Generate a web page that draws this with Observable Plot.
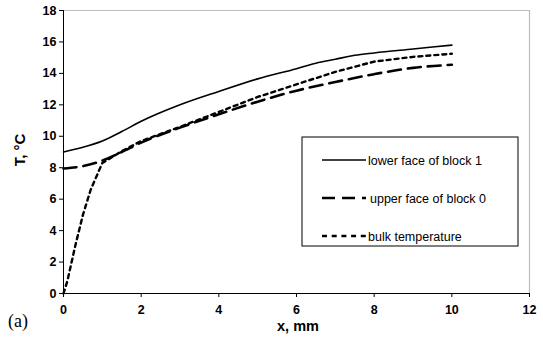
<!DOCTYPE html>
<html><head><meta charset="utf-8">
<script src="https://cdn.jsdelivr.net/npm/d3@7"></script>
<script src="https://cdn.jsdelivr.net/npm/@observablehq/plot@0.6"></script>
<style>
html,body{margin:0;padding:0;background:#fff;}
#chart{position:relative;width:543px;height:340px;}
</style></head>
<body><div id="chart"></div>
<script>
const xTicks = [0, 2, 4, 6, 8, 10, 12];
const yTicks = [0, 2, 4, 6, 8, 10, 12, 14, 16, 18];

const lowerX = [0, 0.5, 1, 1.5, 2, 3, 4, 5, 6, 6.5, 7, 7.5, 8, 9, 10];
const lowerT = [9, 9.3, 9.7, 10.3, 10.95, 12, 12.85, 13.65, 14.3, 14.65, 14.9, 15.15, 15.3, 15.55, 15.8];

const upperX = [0, 0.5, 1, 1.5, 2, 3, 4, 5, 6, 7, 8, 9, 10];
const upperT = [7.95, 8.1, 8.45, 9.0, 9.6, 10.55, 11.4, 12.2, 12.9, 13.45, 13.95, 14.35, 14.55];

const bulkX = [0, 0.1, 0.3, 0.5, 0.7, 1, 1.5, 2, 3, 4, 5, 6, 7, 8, 9, 10];
const bulkT = [0, 0.8, 3, 5, 6.6, 8.3, 9.05, 9.7, 10.6, 11.55, 12.5, 13.3, 14.1, 14.75, 15.05, 15.25];

const seriesNames = ["lower face of block 1", "upper face of block 0", "bulk temperature"];

const mk = (xs, ys) => xs.map((x, i) => ({x, y: ys[i]}));
const lower = mk(lowerX, lowerT), upper = mk(upperX, upperT), bulk = mk(bulkX, bulkT);

const FONT = "Arial, 'Liberation Sans', sans-serif";
const styles = [
  {strokeWidth: 1.6, dash: null},
  {strokeWidth: 2.6, dash: "13,7"},
  {strokeWidth: 2.4, dash: "4,4"}
];

const plot = Plot.plot({
  width: 543, height: 340,
  marginLeft: 63, marginRight: 14, marginTop: 10, marginBottom: 47,
  style: {fontFamily: FONT, background: "#fff"},
  x: {domain: [0, 12], label: null},
  y: {domain: [0, 18], label: null},
  marks: [
    Plot.ruleY([18], {stroke: "#bdbdbd", strokeWidth: 1.2}),
    Plot.ruleX([12], {stroke: "#bdbdbd", strokeWidth: 1.2}),
    Plot.axisX({ticks: xTicks, tickSize: 4, tickPadding: 8, fontWeight: "bold", fontSize: 12.5, stroke: "#000", label: null}),
    Plot.axisY({ticks: yTicks, tickSize: 4, tickPadding: 3, fontWeight: "bold", fontSize: 12.5, stroke: "#000", label: null}),
    Plot.ruleX([0], {stroke: "#000", strokeWidth: 1}),
    Plot.ruleY([0], {stroke: "#000", strokeWidth: 1}),
    Plot.line(lower, {x: "x", y: "y", stroke: "#000", strokeWidth: styles[0].strokeWidth, curve: "monotone-x"}),
    Plot.line(upper, {x: "x", y: "y", stroke: "#000", strokeWidth: styles[1].strokeWidth, strokeDasharray: styles[1].dash, curve: "monotone-x"}),
    Plot.line(bulk, {x: "x", y: "y", stroke: "#000", strokeWidth: styles[2].strokeWidth, strokeDasharray: styles[2].dash, curve: "linear"})
  ]
});
document.getElementById("chart").appendChild(plot);

const svg = d3.select(plot);
// axis titles
svg.append("text").attr("x", 298).attr("y", 331).attr("text-anchor", "middle")
  .attr("font-family", FONT).attr("font-weight", "bold").attr("font-size", 14.5)
  .text("x, mm");
svg.append("text").attr("transform", "translate(25,150) rotate(-90)").attr("text-anchor", "middle")
  .attr("font-family", FONT).attr("font-weight", "bold").attr("font-size", 15)
  .text("T, \u00B0C");
svg.append("text").attr("x", 8).attr("y", 327).attr("text-anchor", "start")
  .attr("font-family", "'Times New Roman', 'Liberation Serif', serif").attr("font-size", 18)
  .text("(a)");

// legend
const lg = svg.append("g");
lg.append("rect").attr("x", 302).attr("y", 137).attr("width", 216).attr("height", 109)
  .attr("fill", "#fff").attr("stroke", "#000").attr("stroke-width", 1);
seriesNames.forEach((name, i) => {
  const yy = 160 + i * 38;
  lg.append("line").attr("x1", 322).attr("x2", 366).attr("y1", yy).attr("y2", yy)
    .attr("stroke", "#000").attr("stroke-width", styles[i].strokeWidth)
    .attr("stroke-dasharray", i === 2 ? "5,4.7" : styles[i].dash);
  lg.append("text").attr("x", i === 1 ? 370 : 368).attr("y", yy + 4.5).attr("text-anchor", "start")
    .attr("font-family", FONT).attr("font-size", 12.5)
    .text(name);
});
</script></body></html>
